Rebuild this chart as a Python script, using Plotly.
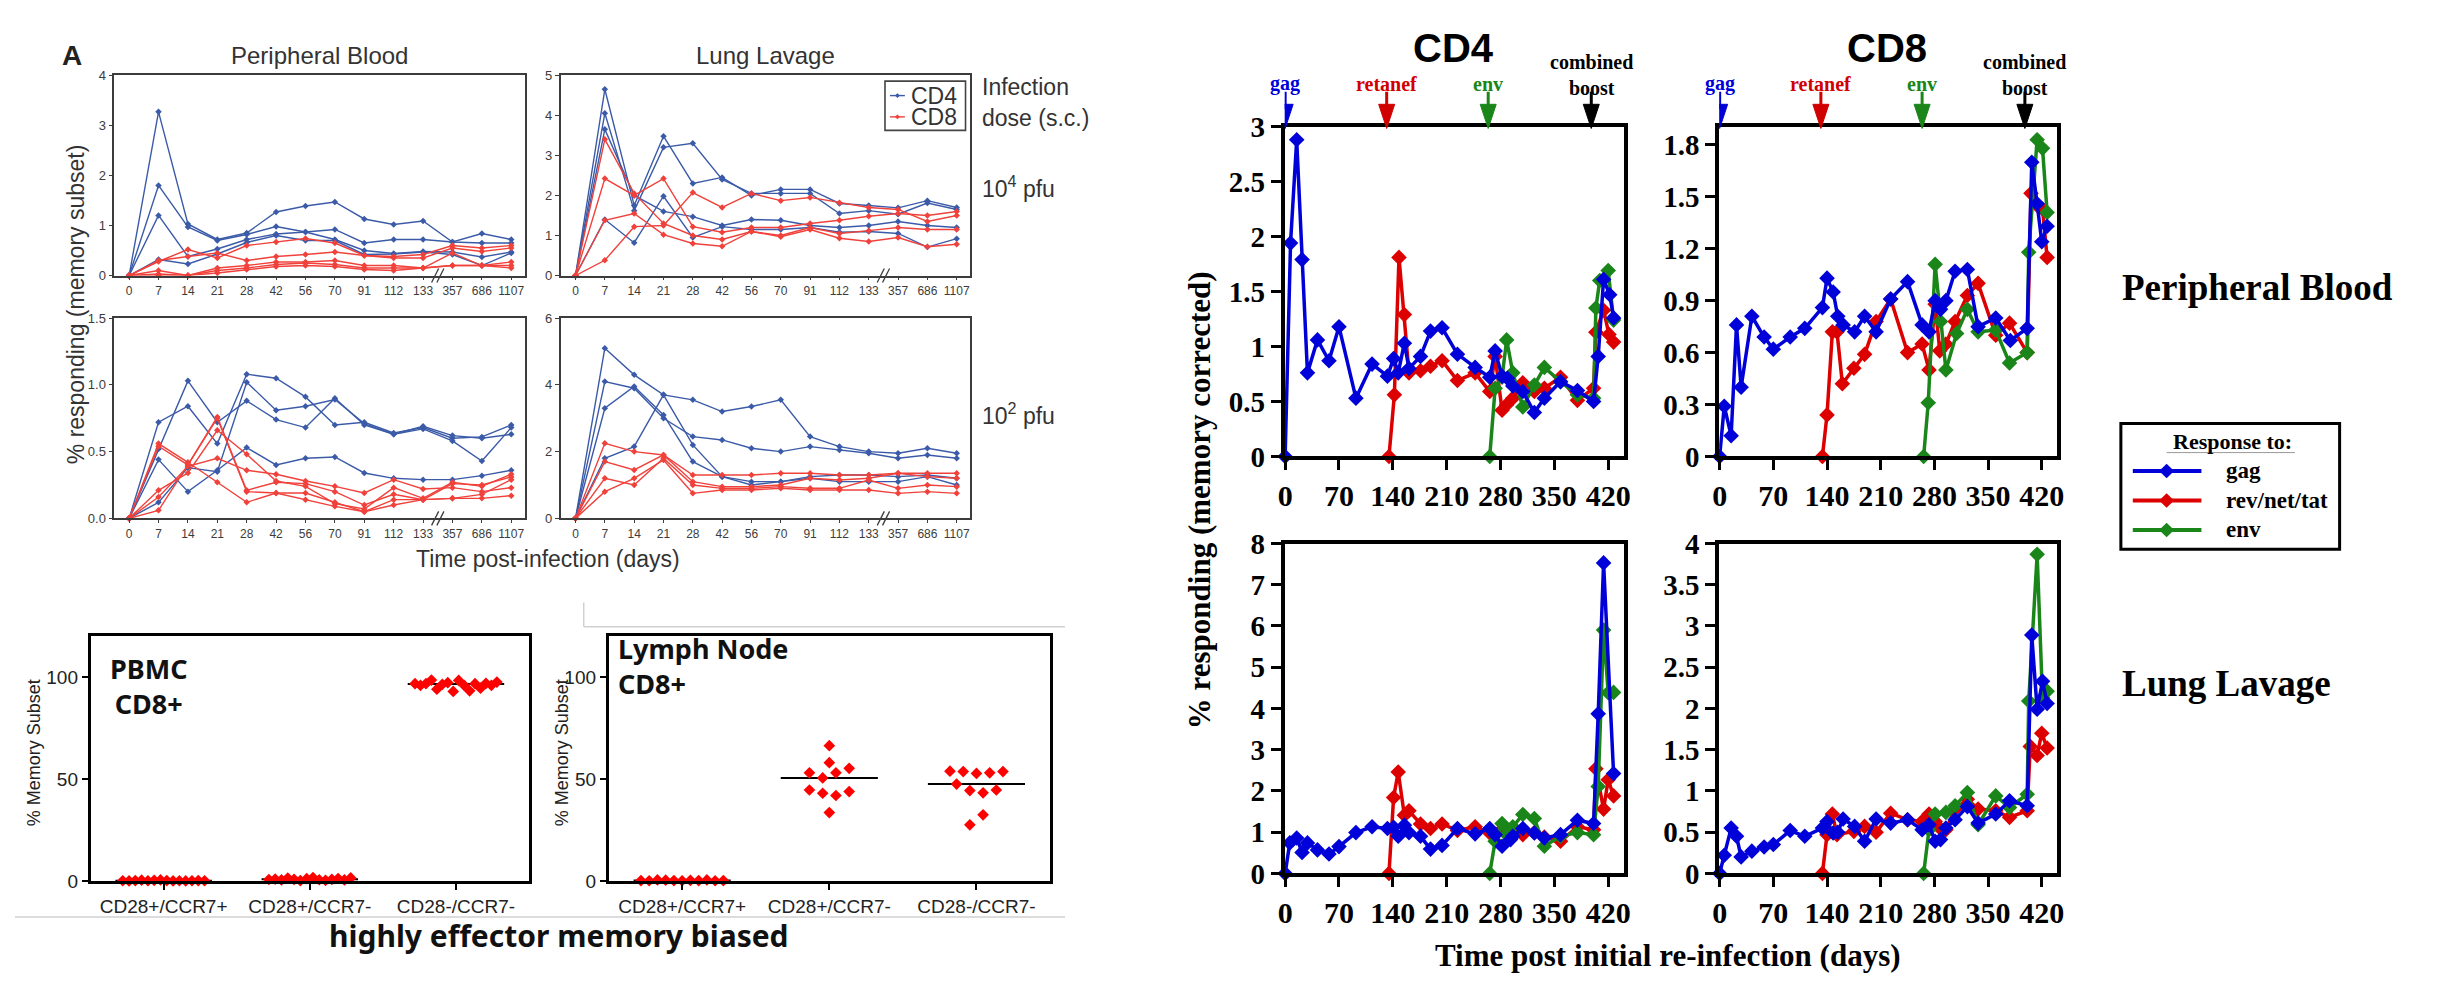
import numpy as np
import plotly.graph_objects as go

W, H = 2445, 983

# ------------------------------------------------------------------
# Panel A (top left): kinetics after infection, categorical day axis
# ------------------------------------------------------------------
days_A = ["0", "7", "14", "21", "28", "42", "56", "70", "91", "112", "133", "357", "686", "1107"]

pb_hi_cd4 = [
    [0, 3.27, 1.03, 0.72, 0.85, 1.27, 1.39, 1.47, 1.13, 1.02, 1.09, 0.67, 0.84, 0.72],
    [0, 1.80, 0.97, 0.70, 0.82, 0.98, 0.87, 0.72, 0.50, 0.44, 0.48, 0.47, 0.37, 0.47],
    [0, 1.20, 0.38, 0.53, 0.72, 0.83, 0.87, 0.92, 0.65, 0.72, 0.72, 0.67, 0.65, 0.65],
    [0, 0.32, 0.23, 0.43, 0.66, 0.80, 0.70, 0.70, 0.42, 0.43, 0.47, 0.42, 0.20, 0.45],
]
pb_hi_cd8 = [
    [0, 0.28, 0.52, 0.35, 0.60, 0.67, 0.74, 0.65, 0.40, 0.38, 0.42, 0.60, 0.55, 0.60],
    [0, 0.30, 0.38, 0.45, 0.30, 0.38, 0.42, 0.47, 0.40, 0.35, 0.35, 0.55, 0.48, 0.55],
    [0, 0.10, 0.00, 0.15, 0.20, 0.27, 0.27, 0.30, 0.20, 0.20, 0.15, 0.45, 0.20, 0.27],
    [0, 0.03, 0.00, 0.10, 0.15, 0.22, 0.25, 0.22, 0.15, 0.15, 0.15, 0.20, 0.20, 0.20],
    [0, 0.00, 0.00, 0.05, 0.12, 0.18, 0.20, 0.18, 0.12, 0.10, 0.15, 0.20, 0.20, 0.15],
]
ll_hi_cd4 = [
    [0, 4.65, 1.75, 3.48, 2.30, 2.45, 2.00, 2.15, 2.15, 1.80, 1.75, 1.69, 1.87, 1.70],
    [0, 4.05, 1.62, 3.20, 3.30, 2.40, 2.05, 2.05, 2.05, 1.55, 1.62, 1.53, 1.81, 1.65],
    [0, 3.65, 2.00, 1.60, 1.47, 1.25, 1.40, 1.38, 1.25, 1.20, 1.25, 1.35, 1.25, 1.20],
    [0, 1.40, 0.82, 1.98, 0.95, 1.22, 1.15, 1.15, 1.20, 1.08, 1.10, 1.05, 0.71, 0.92],
]
ll_hi_cd8 = [
    [0, 3.40, 2.05, 1.30, 1.00, 0.90, 1.10, 1.00, 1.20, 1.05, 1.12, 1.20, 1.15, 1.15],
    [0, 2.42, 2.00, 2.42, 1.22, 1.08, 1.20, 1.20, 1.30, 1.38, 1.48, 1.55, 1.50, 1.60],
    [0, 1.38, 1.55, 1.02, 0.80, 0.73, 1.10, 0.97, 1.15, 0.93, 0.85, 0.95, 0.72, 0.78],
    [0, 0.38, 1.22, 1.25, 2.07, 1.70, 2.05, 1.87, 1.95, 1.82, 1.70, 1.65, 1.35, 1.50],
]
pb_lo_cd4 = [
    [0, 0.72, 0.84, 0.56, 1.08, 1.05, 0.91, 0.70, 0.72, 0.64, 0.68, 0.60, 0.61, 0.70],
    [0, 0.52, 1.03, 0.72, 0.88, 0.74, 0.68, 0.90, 0.70, 0.63, 0.67, 0.58, 0.43, 0.68],
    [0, 0.12, 0.38, 0.35, 1.02, 0.81, 0.84, 0.89, 0.71, 0.63, 0.69, 0.62, 0.60, 0.63],
    [0, 0.44, 0.20, 0.36, 0.53, 0.40, 0.45, 0.46, 0.34, 0.30, 0.29, 0.29, 0.32, 0.36],
]
pb_lo_cd8 = [
    [0, 0.56, 0.42, 0.27, 0.12, 0.19, 0.14, 0.09, 0.05, 0.10, 0.14, 0.15, 0.15, 0.17],
    [0, 0.54, 0.40, 0.76, 0.21, 0.27, 0.26, 0.20, 0.10, 0.18, 0.14, 0.26, 0.25, 0.31],
    [0, 0.21, 0.34, 0.66, 0.48, 0.28, 0.24, 0.11, 0.07, 0.23, 0.15, 0.27, 0.24, 0.33],
    [0, 0.16, 0.39, 0.45, 0.36, 0.33, 0.28, 0.24, 0.19, 0.29, 0.22, 0.23, 0.20, 0.23],
    [0, 0.06, 0.40, 0.75, 0.20, 0.19, 0.19, 0.12, 0.05, 0.14, 0.14, 0.15, 0.18, 0.29],
]
ll_lo_cd4 = [
    [0, 5.10, 4.30, 3.70, 3.55, 3.20, 3.35, 3.55, 2.45, 2.15, 2.00, 1.95, 2.10, 1.95],
    [0, 4.10, 3.90, 3.00, 2.45, 2.35, 2.10, 2.00, 2.15, 2.05, 1.95, 1.80, 1.90, 1.80],
    [0, 3.30, 3.95, 3.10, 1.70, 1.25, 1.00, 1.10, 1.25, 1.30, 1.30, 1.25, 1.30, 1.20],
    [0, 1.80, 2.15, 3.70, 2.20, 1.25, 1.10, 1.10, 1.20, 1.10, 1.10, 1.10, 1.25, 1.00],
]
ll_lo_cd8 = [
    [0, 2.25, 2.00, 1.90, 1.30, 1.30, 1.30, 1.35, 1.35, 1.30, 1.30, 1.35, 1.35, 1.35],
    [0, 1.70, 1.45, 1.90, 1.10, 0.95, 0.95, 1.00, 1.20, 1.15, 1.20, 1.35, 1.25, 1.20],
    [0, 1.20, 1.00, 1.80, 1.00, 0.90, 0.90, 0.95, 0.90, 0.90, 1.15, 0.90, 1.00, 0.95],
    [0, 0.80, 1.20, 1.75, 0.75, 0.85, 0.85, 0.90, 0.85, 0.85, 0.85, 0.75, 0.80, 0.75],
]

# ------------------------------------------------------------------
# Bottom left: memory subset distribution of CD8+ cells
# ------------------------------------------------------------------
subset_cats = ["CD28+/CCR7+", "CD28+/CCR7-", "CD28-/CCR7-"]
pbmc_cd28p_ccr7p = [0.2, 0.1, 0.3, 0.5, 0.2, 0.4, 0.6, 0.3, 0.1, 0.2, 0.1, 0.2, 0.3, 0.2]
pbmc_cd28p_ccr7m = [0.8, 1.0, 0.6, 1.5, 0.9, 0.3, 1.2, 1.8, 0.7, 0.4, 0.9, 1.3, 0.6, 1.6]
pbmc_cd28m_ccr7m = [96.8, 96.0, 96.8, 98.6, 94.1, 96.5, 97.3, 93.0, 98.4, 96.0, 93.3, 96.8,
                    94.6, 97.0, 96.0, 97.6]
ln_cd28p_ccr7p = [0.3, 0.2, 0.6, 0.5, 0.3, 0.2, 0.4, 0.3, 0.6, 0.2, 0.3]
ln_cd28p_ccr7m = [66.4, 58.1, 53.1, 50.6, 53.1, 55.3, 44.7, 43.1, 42.0, 43.9, 33.6]
ln_cd28m_ccr7m = [53.9, 53.7, 52.8, 53.1, 53.7, 47.6, 44.4, 43.3, 44.7, 27.6, 32.5]

# ------------------------------------------------------------------
# Right: responses after re-infection (days, % responding)
# ------------------------------------------------------------------
boost_days = [0, 132, 264, 398]
boost_labels = ["gag", "retanef", "env", "combined<br>boost"]

cd4_pb_gag_day = [0, 7, 15, 22, 29, 42, 57, 70, 92, 113, 133, 141, 147, 155, 161, 176, 189, 204, 224,
                  247, 266, 273, 282, 289, 296, 309, 324, 337, 358, 380, 401, 407, 414, 422, 427]
cd4_pb_gag_val = [0, 1.94, 2.88, 1.79, 0.76, 1.06, 0.87, 1.18, 0.53, 0.84, 0.73, 0.89, 0.76, 1.03,
                  0.80, 0.91, 1.14, 1.17, 0.93, 0.81, 0.72, 0.96, 0.73, 0.71, 0.64, 0.59, 0.40, 0.53,
                  0.68, 0.60, 0.50, 0.91, 1.61, 1.47, 1.26]
cd4_pb_rev_day = [135, 142, 148, 155, 161, 176, 189, 204, 224, 247, 266, 273, 282, 288, 296, 309, 324,
                  337, 358, 380, 401, 404, 414, 421, 427]
cd4_pb_rev_val = [0, 0.56, 1.81, 1.29, 0.76, 0.78, 0.82, 0.87, 0.69, 0.76, 0.59, 0.91, 0.42, 0.47,
                  0.53, 0.67, 0.59, 0.62, 0.72, 0.51, 0.62, 1.13, 1.33, 1.11, 1.04]
cd4_pb_env_day = [266, 273, 282, 288, 296, 309, 324, 337, 358, 380, 401, 404, 409, 420, 427]
cd4_pb_env_val = [0, 0.62, 0.72, 1.06, 0.76, 0.45, 0.65, 0.81, 0.68, 0.56, 0.53, 1.35, 1.60, 1.69, 1.24]

cd8_pb_gag_day = [0, 6, 15, 22, 28, 42, 58, 70, 92, 111, 134, 140, 148, 154, 161, 176, 189, 204, 223,
                  245, 264, 273, 281, 288, 295, 307, 323, 337, 360, 379, 401, 407, 414, 420, 427]
cd8_pb_gag_val = [0, 0.29, 0.12, 0.76, 0.40, 0.81, 0.69, 0.62, 0.69, 0.74, 0.86, 1.03, 0.95, 0.81,
                  0.76, 0.72, 0.81, 0.72, 0.91, 1.01, 0.76, 0.72, 0.90, 0.85, 0.90, 1.07, 1.08, 0.75,
                  0.80, 0.67, 0.74, 1.70, 1.46, 1.24, 1.33]
cd8_pb_rev_day = [134, 140, 147, 153, 160, 175, 189, 204, 223, 245, 264, 273, 281, 287, 295, 307, 323,
                  337, 360, 378, 401, 406, 414, 421, 427]
cd8_pb_rev_val = [0, 0.24, 0.72, 0.72, 0.42, 0.51, 0.59, 0.78, 0.91, 0.60, 0.65, 0.50, 0.88, 0.61,
                  0.65, 0.78, 0.93, 1.00, 0.70, 0.77, 0.60, 1.52, 1.45, 1.43, 1.15]
cd8_pb_env_day = [266, 272, 281, 288, 295, 309, 323, 337, 360, 378, 401, 403, 414, 421, 427]
cd8_pb_env_val = [0, 0.31, 1.11, 0.78, 0.50, 0.71, 0.85, 0.72, 0.73, 0.54, 0.60, 1.18, 1.83, 1.78, 1.41]

cd4_ll_gag_day = [0, 6, 15, 22, 29, 42, 57, 70, 92, 113, 133, 141, 147, 155, 161, 176, 189, 204, 224,
                  247, 266, 273, 282, 293, 296, 309, 324, 337, 358, 380, 401, 407, 414, 427]
cd4_ll_gag_val = [0, 0.74, 0.86, 0.51, 0.74, 0.57, 0.47, 0.65, 0.99, 1.13, 1.09, 1.12, 0.90, 1.17,
                  0.99, 0.90, 0.59, 0.68, 1.09, 0.96, 1.09, 0.94, 0.66, 0.82, 0.90, 1.09, 0.98, 0.86,
                  0.94, 1.29, 1.21, 3.87, 7.53, 2.42]
cd4_ll_rev_day = [135, 141, 147, 155, 161, 176, 189, 204, 224, 247, 266, 273, 282, 293, 309, 324, 337,
                  358, 380, 401, 404, 414, 420, 427]
cd4_ll_rev_val = [0, 1.84, 2.46, 1.41, 1.52, 1.20, 1.09, 1.20, 1.04, 1.13, 0.98, 0.94, 1.07, 1.06,
                  0.94, 0.99, 0.88, 0.78, 1.13, 1.06, 2.54, 1.56, 2.27, 1.88]
cd4_ll_env_day = [266, 273, 282, 288, 296, 309, 324, 337, 358, 380, 401, 407, 414, 420, 427]
cd4_ll_env_val = [0, 0.78, 1.21, 0.94, 1.13, 1.43, 1.33, 0.66, 0.90, 0.99, 0.94, 2.11, 5.90, 4.38, 4.39]

cd8_ll_gag_day = [0, 6, 15, 22, 28, 42, 58, 70, 92, 111, 134, 140, 148, 154, 161, 176, 189, 204, 223,
                  245, 264, 273, 281, 288, 295, 307, 323, 337, 360, 378, 401, 407, 414, 421, 427]
cd8_ll_gag_val = [0, 0.22, 0.55, 0.45, 0.20, 0.27, 0.32, 0.35, 0.52, 0.45, 0.55, 0.63, 0.49, 0.50,
                  0.66, 0.57, 0.39, 0.66, 0.61, 0.65, 0.53, 0.59, 0.39, 0.41, 0.55, 0.65, 0.81, 0.61,
                  0.72, 0.88, 0.82, 2.89, 1.99, 2.33, 2.06]
cd8_ll_rev_day = [134, 140, 147, 153, 175, 189, 204, 223, 245, 264, 273, 281, 287, 295, 307, 323, 337,
                  360, 378, 401, 405, 414, 420, 427]
cd8_ll_rev_val = [0, 0.47, 0.72, 0.47, 0.51, 0.57, 0.50, 0.73, 0.65, 0.63, 0.72, 0.63, 0.55, 0.53,
                  0.78, 0.90, 0.78, 0.76, 0.68, 0.76, 1.54, 1.43, 1.70, 1.52]
cd8_ll_env_day = [266, 273, 281, 295, 307, 323, 337, 360, 378, 401, 403, 414, 421, 427]
cd8_ll_env_val = [0, 0.53, 0.72, 0.74, 0.82, 0.98, 0.59, 0.94, 0.80, 0.96, 2.09, 3.87, 2.13, 2.21]

# ------------------------------------------------------------------
# Styling / helpers
# ------------------------------------------------------------------
A_FONT = "Liberation Sans, Arial, sans-serif"
A_TXT = "Liberation Sans, Arial, sans-serif"
SERIF = "Liberation Serif, Times New Roman, serif"
NOTO = "Noto Sans, Open Sans, sans-serif"
A_BLUE = "#3b5ba8"
A_RED = "#f0413b"
BLUE = "#0000d8"
RED = "#dd0000"
GREEN = "#1a861a"


def PX(x):
    return x / W


def PY(y):
    return 1 - y / H


def dom_x(a, b):
    return [a / W, b / W]


def dom_y(top, bot):
    return [1 - bot / H, 1 - top / H]


fig = go.Figure()
layout = {}
annotations = []
shapes = []


def refs(n):
    return ("x", "y") if n == 1 else (f"x{n}", f"y{n}")


def set_axes(n, xd, yd, xo, yo):
    k = "" if n == 1 else str(n)
    xr, yr = refs(n)
    layout["xaxis" + k] = dict(domain=xd, anchor=yr, **xo)
    layout["yaxis" + k] = dict(domain=yd, anchor=xr, **yo)


def txt(x, y, s, size, family, color="black", bold=False, xanchor="center", yanchor="middle",
        angle=0, align="center"):
    annotations.append(dict(x=PX(x), y=PY(y), xref="paper", yref="paper", text=s, showarrow=False,
                            font=dict(family=family, size=size, color=color,
                                      weight="bold" if bold else "normal"),
                            xanchor=xanchor, yanchor=yanchor, textangle=angle, align=align))


def pline(x0, y0, x1, y1, color, width):
    shapes.append(dict(type="line", xref="paper", yref="paper", x0=PX(x0), y0=PY(y0),
                       x1=PX(x1), y1=PY(y1), line=dict(color=color, width=width)))


def prect(x0, y0, x1, y1, color, width):
    shapes.append(dict(type="rect", xref="paper", yref="paper", x0=PX(x0), y0=PY(y1),
                       x1=PX(x1), y1=PY(y0), line=dict(color=color, width=width),
                       fillcolor="rgba(0,0,0,0)"))


def pdiamond(cx, cy, r, color):
    path = (f"M {PX(cx - r)},{PY(cy)} L {PX(cx)},{PY(cy - r)} L {PX(cx + r)},{PY(cy)} "
            f"L {PX(cx)},{PY(cy + r)} Z")
    shapes.append(dict(type="path", xref="paper", yref="paper", path=path,
                       fillcolor=color, line=dict(color=color, width=0)))


# ------------------------------------------------------------------
# Panel A axes & traces
# ------------------------------------------------------------------
def a_x():
    return dict(range=[-0.5, 13.47], tickvals=list(range(len(days_A))), ticktext=days_A,
                tickangle=0, showline=True, linecolor="#3c3c3c", linewidth=1.8, mirror=True,
                ticks="outside", ticklen=3, tickwidth=1.2, tickcolor="#3c3c3c", showgrid=False,
                zeroline=False, tickfont=dict(family=A_FONT, size=12, color="#3c3c3c"),
                fixedrange=True)


def a_y(ymax, tv, fmt=None):
    d = dict(range=[0, ymax], tickvals=tv, showline=True, linecolor="#3c3c3c", linewidth=1.8,
             mirror=True, ticks="outside", ticklen=4, tickwidth=1.2, tickcolor="#3c3c3c",
             showgrid=False, zeroline=False,
             tickfont=dict(family=A_FONT, size=13, color="#3c3c3c"), fixedrange=True)
    if fmt:
        d["tickformat"] = fmt
    return d


panelsA = [
    (1, (100, 513), (53, 260), 4, [0, 1, 2, 3, 4], None, pb_hi_cd4, pb_hi_cd8),
    (2, (549, 961), (53, 260), 5, [0, 1, 2, 3, 4, 5], None, ll_hi_cd4, ll_hi_cd8),
    (3, (100, 513), (304, 511), 1.5, [0, 0.5, 1.0, 1.5], ".1f", pb_lo_cd4, pb_lo_cd8),
    (4, (549, 961), (304, 511), 6, [0, 2, 4, 6], None, ll_lo_cd4, ll_lo_cd8),
]
xidx = list(range(len(days_A)))
for n, xd, yd, ymax, tv, fmt, cd4, cd8 in panelsA:
    set_axes(n, dom_x(*xd), dom_y(*yd), a_x(), a_y(ymax, tv, fmt))
    xr, yr = refs(n)
    for series, col in ((cd4, A_BLUE), (cd8, A_RED)):
        for s in series:
            fig.add_trace(go.Scatter(x=xidx, y=s, xaxis=xr, yaxis=yr, mode="lines+markers",
                                     line=dict(color=col, width=1.4),
                                     marker=dict(symbol="diamond", size=5, color=col),
                                     cliponaxis=False, showlegend=False, hoverinfo="skip"))
    # axis break "//" between 133 and 357
    for d in (-0.09, 0.09):
        shapes.append(dict(type="line", xref=xr, yref=f"{yr} domain",
                           x0=10.5 + d - 0.12, x1=10.5 + d + 0.12, y0=-0.035, y1=0.035,
                           line=dict(color="#3c3c3c", width=1.3)))

# Panel A texts
txt(57, 33, "A", 28, A_TXT, "#222", bold=True)
txt(306, 33, "Peripheral Blood", 24, A_TXT, "#333")
txt(755, 33, "Lung Lavage", 24, A_TXT, "#333")
txt(61, 290, "% responding (memory subset)", 23, A_TXT, "#333", angle=-90)
txt(536, 553, "Time post-infection (days)", 23, A_TXT, "#333")
txt(971, 65, "Infection", 23, A_TXT, "#333", xanchor="left")
txt(971, 97, "dose (s.c.)", 23, A_TXT, "#333", xanchor="left")
txt(971, 169, "10<sup>4</sup> pfu", 23, A_TXT, "#333", xanchor="left")
txt(971, 403, "10<sup>2</sup> pfu", 23, A_TXT, "#333", xanchor="left")
# inset legend CD4 / CD8
prect(875, 59, 956, 110, "#444", 1.6)
for yy, lab, col in ((74, "CD4", A_BLUE), (96, "CD8", A_RED)):
    pline(880, yy, 895, yy, col, 1.4)
    pdiamond(887.5, yy, 2.5, col)
    txt(899, yy, lab, 23, A_TXT, "#333", xanchor="left")

# ------------------------------------------------------------------
# Memory subset panels
# ------------------------------------------------------------------
def swarm_offsets(vals, gap=6.0, step=0.09, half=0.28):
    order = sorted(range(len(vals)), key=lambda i: vals[i])
    rows = []
    for i in order:
        if rows and vals[i] - vals[rows[-1][0]] <= gap:
            rows[-1].append(i)
        else:
            rows.append([i])
    off = [0.0] * len(vals)
    for r in rows:
        r = sorted(r)
        m = len(r)
        s = step if m < 2 else min(step, 2 * half / (m - 1))
        for k, i in enumerate(r):
            off[i] = (k - (m - 1) / 2) * s
    return off


def sub_x():
    return dict(range=[-0.5, 2.5], tickvals=[0, 1, 2], ticktext=subset_cats, tickangle=0,
                showline=True, linecolor="black", linewidth=2.5, mirror=True, ticks="outside",
                ticklen=6, tickwidth=2, tickcolor="black", showgrid=False, zeroline=False,
                tickfont=dict(family=A_TXT, size=19, color="#222"), fixedrange=True)


def sub_y():
    return dict(range=[0, 120], tickvals=[0, 50, 100], showline=True, linecolor="black",
                linewidth=2.5, mirror=True, ticks="outside", ticklen=6, tickwidth=2,
                tickcolor="black", showgrid=False, zeroline=False,
                tickfont=dict(family=A_TXT, size=19, color="#222"), fixedrange=True)


sub_panels = [
    (5, (76, 517), [pbmc_cd28p_ccr7p, pbmc_cd28p_ccr7m, pbmc_cd28m_ccr7m]),
    (6, (597, 1041), [ln_cd28p_ccr7p, ln_cd28p_ccr7m, ln_cd28m_ccr7m]),
]
for n, xd, groups in sub_panels:
    set_axes(n, dom_x(*xd), dom_y(633, 886), sub_x(), sub_y())
    xr, yr = refs(n)
    for gi, vals in enumerate(groups):
        off = swarm_offsets(vals)
        med = float(np.median(vals))
        fig.add_trace(go.Scatter(x=[gi - 0.33, gi + 0.33], y=[med, med], xaxis=xr, yaxis=yr,
                                 mode="lines", line=dict(color="black", width=2),
                                 showlegend=False, hoverinfo="skip", cliponaxis=False))
        fig.add_trace(go.Scatter(x=[gi + o for o in off], y=vals, xaxis=xr, yaxis=yr,
                                 mode="markers",
                                 marker=dict(symbol="diamond", size=9, color="#ff0000"),
                                 showlegend=False, cliponaxis=False))

txt(20, 753, "% Memory Subset", 18, A_TXT, "#222", angle=-90)
txt(551, 753, "% Memory Subset", 18, A_TXT, "#222", angle=-90)
txt(135, 684, "PBMC<br>CD8+", 27, NOTO, "#111", bold=True)
txt(604, 664, "Lymph Node<br>CD8+", 27, NOTO, "#111", bold=True, xanchor="left", align="left")
txt(547, 942, "highly effector memory biased", 30, NOTO, "#111", bold=True)
pline(0, 923, 1056, 923, "#d0d0d0", 1.5)
pline(572, 623, 1056, 623, "#d0d0d0", 1.5)
pline(572, 598, 572, 623, "#d0d0d0", 1.5)

# ------------------------------------------------------------------
# Right panels
# ------------------------------------------------------------------
def r_x():
    return dict(range=[-0.6, 440.2], tickvals=[0, 70, 140, 210, 280, 350, 420], tickangle=0,
                showline=True, linecolor="black", linewidth=4, mirror=True, ticks="outside",
                ticklen=10, tickwidth=3, tickcolor="black", showgrid=False, zeroline=False,
                tickfont=dict(family=SERIF, size=30, color="black", weight="bold"),
                fixedrange=True)


def r_y(ymax, tv):
    return dict(range=[0, ymax], tickvals=tv, showline=True, linecolor="black", linewidth=4,
                mirror=True, ticks="outside", ticklen=10, tickwidth=3, tickcolor="black",
                showgrid=False, zeroline=False,
                tickfont=dict(family=SERIF, size=29, color="black", weight="bold"),
                fixedrange=True)


right_panels = [
    (7, (1277, 1618), (106, 447), 3.0, [0, 0.5, 1, 1.5, 2, 2.5, 3],
     [(cd4_pb_rev_day, cd4_pb_rev_val, RED), (cd4_pb_env_day, cd4_pb_env_val, GREEN),
      (cd4_pb_gag_day, cd4_pb_gag_val, BLUE)]),
    (8, (1714, 2054), (106, 447), 1.906, [0, 0.3, 0.6, 0.9, 1.2, 1.5, 1.8],
     [(cd8_pb_rev_day, cd8_pb_rev_val, RED), (cd8_pb_env_day, cd8_pb_env_val, GREEN),
      (cd8_pb_gag_day, cd8_pb_gag_val, BLUE)]),
    (9, (1277, 1618), (537, 878), 8, [0, 1, 2, 3, 4, 5, 6, 7, 8],
     [(cd4_ll_rev_day, cd4_ll_rev_val, RED), (cd4_ll_env_day, cd4_ll_env_val, GREEN),
      (cd4_ll_gag_day, cd4_ll_gag_val, BLUE)]),
    (10, (1714, 2054), (537, 878), 4, [0, 0.5, 1, 1.5, 2, 2.5, 3, 3.5, 4],
     [(cd8_ll_rev_day, cd8_ll_rev_val, RED), (cd8_ll_env_day, cd8_ll_env_val, GREEN),
      (cd8_ll_gag_day, cd8_ll_gag_val, BLUE)]),
]
for n, xd, yd, ymax, tv, series in right_panels:
    set_axes(n, dom_x(*xd), dom_y(*yd), r_x(), r_y(ymax, tv))
    xr, yr = refs(n)
    for dd, vv, col in series:
        fig.add_trace(go.Scatter(x=dd, y=vv, xaxis=xr, yaxis=yr, mode="lines+markers",
                                 line=dict(color=col, width=3.5),
                                 marker=dict(symbol="diamond", size=12, color=col),
                                 cliponaxis=False, showlegend=False))

# boost arrows above the top panels
boost_colors = [BLUE, "#d00000", GREEN, "black"]
for n in (7, 8):
    xr, yr = refs(n)
    for day, lab, col in zip(boost_days, boost_labels, boost_colors):
        shapes.append(dict(type="line", xref=xr, xsizemode="pixel", xanchor=day, x0=0, x1=0,
                           yref="paper", y0=PY(70), y1=PY(88), line=dict(color=col, width=3)))
        shapes.append(dict(type="path", xref=xr, xsizemode="pixel", xanchor=day,
                           yref="paper",
                           path=f"M -8,{PY(83)} L 8,{PY(83)} L 0,{PY(108)} Z",
                           fillcolor=col, line=dict(color=col, width=1)))
        ytxt = 53 if "<br>" in lab else 62
        annotations.append(dict(x=day, xref=xr, y=PY(ytxt), yref="paper", text=lab,
                                showarrow=False, xanchor="center", yanchor="middle",
                                font=dict(family=SERIF, size=20, color=col, weight="bold")))

txt(1447, 25, "CD4", 40, A_TXT, "black", bold=True)
txt(1883, 25, "CD8", 40, A_TXT, "black", bold=True)
txt(1192, 492, "% responding (memory corrected)", 31, SERIF, "black", bold=True, angle=-90)
txt(1663, 963, "Time post initial re-infection (days)", 31, SERIF, "black", bold=True)
txt(2117, 272, "Peripheral Blood", 37, SERIF, "black", bold=True, xanchor="left")
txt(2117, 682, "Lung Lavage", 37, SERIF, "black", bold=True, xanchor="left")

# legend box
legend_items = [("gag", BLUE), ("rev/net/tat", RED), ("env", GREEN)]
prect(2118, 413, 2338, 543, "black", 3)
txt(2230, 432, "Response to:", 22, SERIF, "black", bold=True)
pline(2164, 443, 2293, 443, "#999999", 1)
for k, (lab, col) in enumerate(legend_items):
    yy = 462 + k * 30.5
    pline(2130, yy, 2199, yy, col, 4)
    pdiamond(2164, yy, 7.5, col)
    txt(2222, yy, lab, 23, SERIF, "black", bold=True, xanchor="left")

layout.update(dict(width=W, height=H, margin=dict(l=0, r=0, t=0, b=0),
                   paper_bgcolor="white", plot_bgcolor="white", showlegend=False,
                   annotations=annotations, shapes=shapes))
fig.update_layout(**layout)
fig.write_html("out.html")
